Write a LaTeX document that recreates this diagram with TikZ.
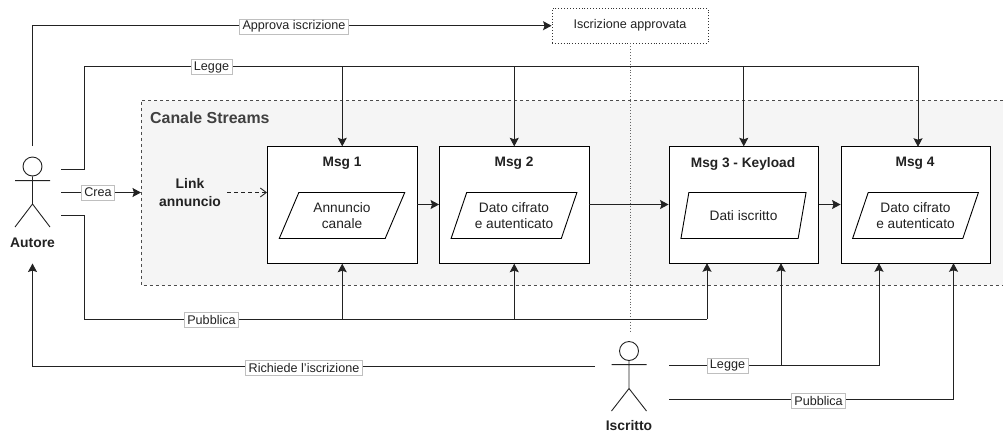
\documentclass[tikz,border=0pt]{standalone}
\usepackage{fontspec}
\setmainfont{Liberation Sans}
\usetikzlibrary{shapes.geometric,arrows.meta,calc}
\definecolor{ink}{HTML}{222222}
\tikzset{
  x=1pt,y=-1pt,
  every node/.style={text=ink,font=\fontsize{12.6}{15}\selectfont},
  conn/.style={draw=ink,line width=0.9pt},
  arr/.style={conn,-{Stealth[length=8.5pt,width=9pt,inset=1.5pt]}},
  msgbox/.style={draw=black,line width=0.9pt,fill=white,minimum width=149.5pt,minimum height=116.5pt,inner sep=0pt},
  msgtitle/.style={font=\bfseries\fontsize{13.7}{16}\selectfont},
  datashape/.style={trapezium,trapezium left angle=64,trapezium right angle=116,trapezium stretches=true,draw=black,line width=0.9pt,fill=white,minimum width=126pt,minimum height=46pt,inner sep=0pt,align=center,font=\fontsize{13.7}{16.5}\selectfont},
  lab/.style={draw=black!25,line width=0.5pt,fill=white,inner xsep=3pt,inner ysep=0pt,minimum height=15pt,font=\fontsize{12.6}{14}\selectfont},
  actorbody/.style={draw=ink,line width=0.9pt},
  actorname/.style={font=\bfseries\fontsize{13.9}{16}\selectfont},
}
\begin{document}
\begin{tikzpicture}
\useasboundingbox (0,0) rectangle (1003,432);
% group: its right side runs off the picture
\node[fill=black!4,minimum width=862pt,minimum height=184.5pt,inner sep=0pt,anchor=north west] (grp) at (141,100.3) {};
\draw[draw=black!70,dashed,line width=0.6pt] (grp.north east) -- (grp.north west) -- (grp.south west) -- (grp.south east);
\node[anchor=west,inner sep=0pt,font=\bfseries\fontsize{15.9}{18}\selectfont,text=black!75] (grptitle) at (150,117.5) {Canale Streams};
% messages
\node[msgbox] (m1) at (342.25,205) {};
\node[msgbox] (m2) at (514.25,205) {};
\node[msgbox] (m3) at (743.75,205) {};
\node[msgbox] (m4) at (915.75,205) {};
\node[msgtitle] (t1) at (342,163.5) {Msg 1};
\node[msgtitle] (t2) at (514,163.5) {Msg 2};
\node[msgtitle] (t3) at (743,163.5) {Msg 3 - Keyload};
\node[msgtitle] (t4) at (915,163.5) {Msg 4};
\node[datashape] (p1) at (342,215.5) {Annuncio\\canale};
\node[datashape] (p2) at (514,215.5) {Dato cifrato\\e autenticato};
\node[datashape] (p3) at (743.5,215.5) {Dati iscritto};
\node[datashape] (p4) at (915.5,215.5) {Dato cifrato\\e autenticato};
\node[align=center,font=\bfseries\fontsize{13.9}{17.5}\selectfont] (link) at (190,192.5) {Link\\annuncio};
% approved box
\node[draw=black!80,dotted,line width=0.9pt,minimum width=156pt,minimum height=34.5pt,inner sep=0pt,font=\fontsize{12.6}{15}\selectfont] (ok) at (630,25.7) {Iscrizione approvata};
% actors
\coordinate (ah) at (32.5,166.5);
\node[circle,actorbody,minimum size=19pt,inner sep=0pt,fill=white] (ahead) at (ah) {};
\coordinate (aarmL) at (15,180.6); \coordinate (aarmR) at (50,180.6);
\coordinate (ahip) at (32.5,204); \coordinate (afootL) at (15,227); \coordinate (afootR) at (50,227);
\draw[actorbody] (ahead.south) -- (ahip) (aarmL) -- (aarmR) (afootL) -- (ahip) -- (afootR);
\node[actorname] (autore) at (32.5,243) {Autore};
\coordinate (ih) at (629,351);
\node[circle,actorbody,minimum size=19pt,inner sep=0pt,fill=white] (ihead) at (ih) {};
\coordinate (iarmL) at (611.5,364.6); \coordinate (iarmR) at (646.5,364.6);
\coordinate (ihip) at (629,388.5); \coordinate (ifootL) at (611.5,411); \coordinate (ifootR) at (646.5,411);
\draw[actorbody] (ihead.south) -- (ihip) (iarmL) -- (iarmR) (ifootL) -- (ihip) -- (ifootR);
\node[actorname] (iscritto) at (629,425.7) {Iscritto};
% dotted link
\coordinate (dotend) at (630,331);
\draw[draw=black!60,dotted,line width=0.9pt] (ok.south) -- (dotend);
% free ends
\coordinate (aTop) at (32.5,146);
\coordinate (aRead) at (61,169.5);
\coordinate (aCrea) at (61,192.5);
\coordinate (aPub) at (61,215);
\coordinate (aBot) at (32.5,263.5);
\coordinate (iReq) at (595,366);
\coordinate (iRead) at (669,365);
\coordinate (iPub) at (669,399.5);
\coordinate (rdT) at (84,66);
\coordinate (pbB) at (84,319);
\coordinate (rdJ1) at (342.25,66);
\coordinate (rdJ2) at (514.25,66);
\coordinate (rdJ3) at (743.75,66);
\coordinate (pbJ1) at (342.25,319);
\coordinate (pbJ2) at (514.25,319);
\coordinate (m3in) at (707,263.25);
\coordinate (m3inB) at (781,263.25);
\coordinate (m4inA) at (879,263.25);
\coordinate (m4inB) at (953.5,263.25);
\coordinate (m4top) at (918,146.75);
\coordinate (rdJ4) at (918,66);
\coordinate (l2J) at (781,365);
% connectors
\draw[arr] (aTop) |- (ok.west);
\node[lab] (lb1) at (294,26.5) {Approva iscrizione};
\draw[conn] (aRead) -| (rdT) -- (rdJ4);
\draw[arr] (rdJ1) -- (m1.north);
\draw[arr] (rdJ2) -- (m2.north);
\draw[arr] (rdJ3) -- (m3.north);
\draw[arr] (rdJ4) -- (m4top);
\node[lab] (lb2) at (211.5,67) {Legge};
\draw[arr] (aCrea) -- (aCrea -| grp.west);
\node[lab] (lb3) at (98,192.5) {Crea};
\draw[conn,dash pattern=on 4pt off 3pt,-{Straight Barb[length=6pt,width=9pt]}] (link.east |- aCrea) ++(3,0) -- (m1.west |- aCrea);
\draw[arr] (m1.east |- p1.center) ++(0,-11) coordinate (e12) -- (e12 -| m2.west);
\draw[arr] (m2.east |- e12) -- (m3.west |- e12);
\draw[arr] (m3.east |- e12) -- (m4.west |- e12);
\draw[conn] (aPub) -| (pbB) -- (pbB -| m3in);
\draw[arr] (pbB -| m3in) -- (m3in);
\draw[arr] (pbJ1) -- (m1.south);
\draw[arr] (pbJ2) -- (m2.south);
\node[lab] (lb4) at (211.5,320) {Pubblica};
\draw[arr] (iReq) -| (aBot);
\node[lab] (lb5) at (304,367.5) {Richiede l'iscrizione};
\draw[arr] (iRead) -| (m4inA);
\draw[arr] (l2J) -- (m3inB);
\node[lab] (lb6) at (727.5,365.5) {Legge};
\draw[arr] (iPub) -| (m4inB);
\node[lab] (lb7) at (818.5,400.5) {Pubblica};
\end{tikzpicture}
\end{document}
